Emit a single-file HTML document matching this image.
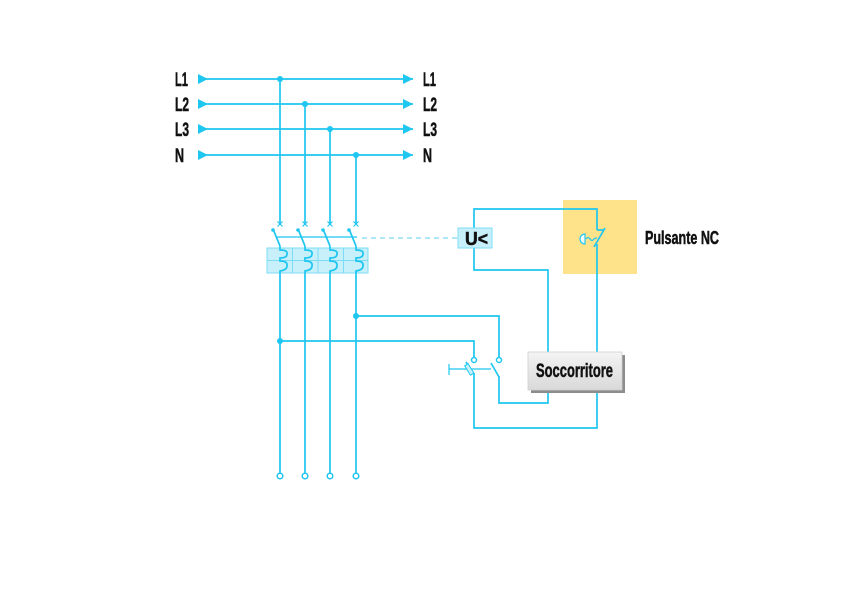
<!DOCTYPE html>
<html>
<head>
<meta charset="utf-8">
<style>
  html,body{margin:0;padding:0;background:#fff;}
  svg{display:block;}
  text{font-family:"Liberation Sans",sans-serif;font-weight:bold;fill:#111;stroke:#111;stroke-width:0.5;}
</style>
</head>
<body>
<svg width="841" height="594" viewBox="0 0 841 594" xmlns="http://www.w3.org/2000/svg">
  <defs>
    <linearGradient id="g" x1="0" y1="0" x2="0" y2="1">
      <stop offset="0" stop-color="#f4f4f4"/>
      <stop offset="1" stop-color="#d9d9d9"/>
    </linearGradient>
  </defs>
  <rect width="841" height="594" fill="#fff"/>

  <!-- yellow pushbutton area -->
  <rect x="563" y="200" width="74" height="74" fill="#ffe38a"/>

  <g stroke="#1ec6f0" stroke-width="1.7" fill="none">
    <!-- bus lines -->
    <line x1="198" y1="79" x2="413" y2="79"/>
    <line x1="198" y1="104" x2="413" y2="104"/>
    <line x1="198" y1="129" x2="413" y2="129"/>
    <line x1="198" y1="155" x2="413" y2="155"/>

    <!-- verticals top part -->
    <line x1="280" y1="79" x2="280" y2="225"/>
    <line x1="305" y1="104" x2="305" y2="225"/>
    <line x1="330" y1="129" x2="330" y2="225"/>
    <line x1="356" y1="155" x2="356" y2="225"/>

    <!-- crosses -->
    <path d="M277.5 221.5 l5 5 M282.5 221.5 l-5 5" stroke-width="1.2"/>
    <path d="M302.5 221.5 l5 5 M307.5 221.5 l-5 5" stroke-width="1.2"/>
    <path d="M327.5 221.5 l5 5 M332.5 221.5 l-5 5" stroke-width="1.2"/>
    <path d="M353.5 221.5 l5 5 M358.5 221.5 l-5 5" stroke-width="1.2"/>

    <!-- blades -->
    <line x1="273" y1="229" x2="280" y2="246"/>
    <line x1="298" y1="229" x2="305" y2="246"/>
    <line x1="323" y1="229" x2="330" y2="246"/>
    <line x1="349" y1="229" x2="356" y2="246"/>
    <!-- mechanical link -->
    <line x1="276" y1="237" x2="357" y2="237" stroke-width="1.2"/>
  </g>
  <g fill="#1ec6f0">
    <circle cx="273" cy="230" r="1.8"/>
    <circle cx="298" cy="230" r="1.8"/>
    <circle cx="323" cy="230" r="1.8"/>
    <circle cx="349" cy="230" r="1.8"/>
  </g>

  <!-- dashed link to U< -->
  <line x1="362" y1="238" x2="457" y2="238" stroke="#7ed9f2" stroke-width="1.2" stroke-dasharray="5,4"/>

  <!-- breaker box -->
  <rect x="267" y="248" width="101" height="25" fill="#c8f0fa" stroke="#7ddcf4" stroke-width="1"/>
  <g stroke="#7ddcf4" stroke-width="1">
    <line x1="292.5" y1="248" x2="292.5" y2="273"/>
    <line x1="318" y1="248" x2="318" y2="273"/>
    <line x1="343.5" y1="248" x2="343.5" y2="273"/>
    <line x1="267" y1="260.5" x2="368" y2="260.5"/>
  </g>

  <g stroke="#1ec6f0" stroke-width="1.7" fill="none">
    <path d="M280 246 V250 Q288 250 287 254 Q287 258 280 258 V261 Q288 261 287 266 Q287 270 280 271 V473"/>
    <path d="M305 246 V250 Q313 250 312 254 Q312 258 305 258 V261 Q313 261 312 266 Q312 270 305 271 V473"/>
    <path d="M330 246 V250 Q338 250 337 254 Q337 258 330 258 V261 Q338 261 337 266 Q337 270 330 271 V473"/>
    <path d="M356 246 V250 Q364 250 363 254 Q363 258 356 258 V261 Q364 261 363 266 Q363 270 356 271 V473"/>

    <!-- wires to switches -->
    <path d="M356 316 H499 V357"/>
    <path d="M280 341 H474 V357"/>

    <!-- left switch blade & output -->
    <line x1="466" y1="362" x2="474" y2="374"/>
    <path d="M474 373 V428 H597 V390"/>
    <!-- right switch -->
    <line x1="491" y1="363" x2="499" y2="377"/>
    <path d="M499 376 V403 H548 V390"/>
    <!-- actuator -->
    <line x1="449" y1="369" x2="491" y2="369" stroke-width="1.2"/>
    <line x1="449" y1="364" x2="449" y2="375" stroke-width="1.2"/>

    <!-- U< wiring -->
    <path d="M474 228 V209 H597 V230"/>
    <path d="M474 248 V270 H548 V352"/>
    <!-- pulsante lower -->
    <path d="M597 244 V352"/>
    <!-- NC contact -->
    <path d="M597 230 H604"/>
    <line x1="605" y1="228" x2="594" y2="247"/>
    <!-- button head -->
    <path d="M585 234 A5 5 0 0 0 585 244 Z" fill="#fff" stroke-width="1.2"/>
    <path d="M586 239 q2 -3 4 0 q2 3 4 0 q1 -1 3 -1" stroke-width="1.2"/>
  </g>

  <!-- slanted element on left switch -->
  <rect x="467" y="364" width="4" height="11" fill="#c8f0fa" stroke="#1ec6f0" stroke-width="1" transform="rotate(-32 469 369)"/>

  <!-- arrows -->
  <g fill="#1ec6f0">
    <polygon points="198,74 208,79 198,84"/>
    <polygon points="198,99 208,104 198,109"/>
    <polygon points="198,124 208,129 198,134"/>
    <polygon points="198,150 208,155 198,160"/>
    <polygon points="403,74 413,79 403,84"/>
    <polygon points="403,99 413,104 403,109"/>
    <polygon points="403,124 413,129 403,134"/>
    <polygon points="403,150 413,155 403,160"/>
    <!-- junction dots -->
    <circle cx="280" cy="79" r="3"/>
    <circle cx="305" cy="104" r="3"/>
    <circle cx="330" cy="129" r="3"/>
    <circle cx="356" cy="155" r="3"/>
    <circle cx="356" cy="316" r="3"/>
    <circle cx="280" cy="341" r="3"/>
  </g>

  <!-- terminals -->
  <g fill="#fff" stroke="#1ec6f0" stroke-width="1.5">
    <circle cx="280" cy="476" r="2.8"/>
    <circle cx="305" cy="476" r="2.8"/>
    <circle cx="330" cy="476" r="2.8"/>
    <circle cx="356" cy="476" r="2.8"/>
    <circle cx="474" cy="360" r="2.5"/>
    <circle cx="499" cy="360" r="2.5"/>
  </g>

  <!-- U< box -->
  <rect x="458" y="228" width="34" height="20" fill="#c8f0fa" stroke="#7ddcf4" stroke-width="1"/>
  <text x="465" y="245" font-size="18" textLength="23" lengthAdjust="spacingAndGlyphs">U&lt;</text>

  <!-- Soccorritore -->
  <rect x="531" y="355" width="94" height="38" fill="#8c8c8c"/>
  <rect x="528" y="352" width="94" height="38" fill="url(#g)" stroke="#cfcfcf" stroke-width="0.8"/>
  <text x="536" y="377" font-size="19" textLength="77" lengthAdjust="spacingAndGlyphs">Soccorritore</text>

  <!-- labels -->
  <g font-size="19">
    <text x="175" y="86" textLength="13" lengthAdjust="spacingAndGlyphs">L1</text>
    <text x="175" y="111" textLength="14" lengthAdjust="spacingAndGlyphs">L2</text>
    <text x="175" y="136" textLength="14" lengthAdjust="spacingAndGlyphs">L3</text>
    <text x="175" y="162" textLength="9" lengthAdjust="spacingAndGlyphs">N</text>
    <text x="423" y="86" textLength="13" lengthAdjust="spacingAndGlyphs">L1</text>
    <text x="423" y="111" textLength="14" lengthAdjust="spacingAndGlyphs">L2</text>
    <text x="423" y="136" textLength="14" lengthAdjust="spacingAndGlyphs">L3</text>
    <text x="423" y="162" textLength="9" lengthAdjust="spacingAndGlyphs">N</text>
    <text x="645" y="244" font-size="18" textLength="74" lengthAdjust="spacingAndGlyphs">Pulsante NC</text>
  </g>
</svg>
</body>
</html>
